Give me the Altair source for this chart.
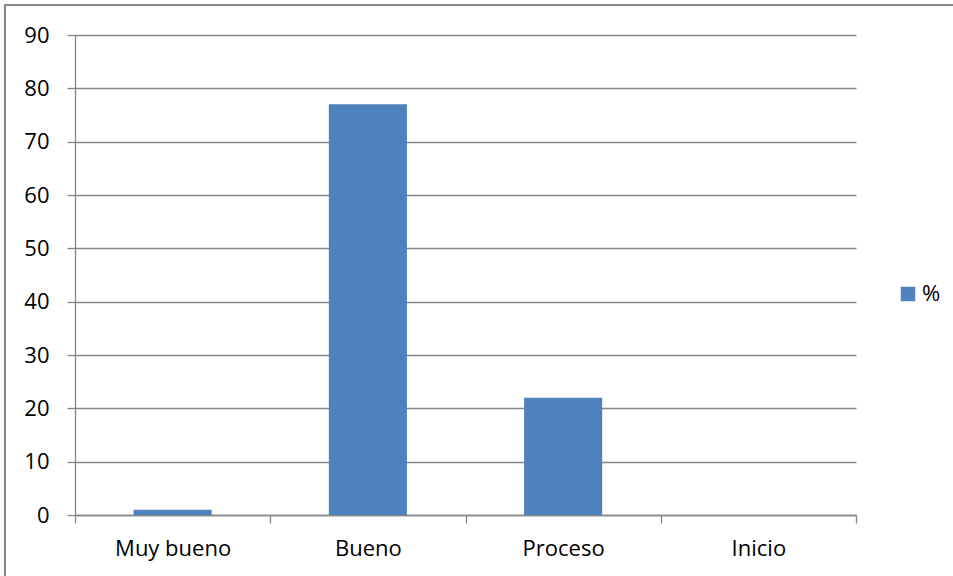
import altair as alt
import pandas as pd

# Rating categories and their percentage share
categorias = ["Muy bueno", "Bueno", "Proceso", "Inicio"]
porcentajes = [1, 77, 22, 0]
serie = ["%", "%", "%", "%"]

df = pd.DataFrame({"categoria": categorias, "valor": porcentajes, "serie": serie})

GRIS = "#868686"
AZUL = "#4F81BD"
FUENTE = "Open Sans"
TAM = 22

barras = alt.Chart(df).mark_bar(
    color=AZUL, width=alt.RelativeBandSize(0.4)
).encode(
    x=alt.X(
        "categoria:N",
        sort=categorias,
        scale=alt.Scale(paddingInner=0, paddingOuter=0),
        axis=alt.Axis(
            title=None,
            labelAngle=0,
            tickBand="extent",
            tickSize=8,
            labelPadding=15,
            grid=False,
        ),
    ),
    y=alt.Y(
        "valor:Q",
        scale=alt.Scale(domain=[0, 90], nice=False),
        axis=alt.Axis(
            title=None,
            values=list(range(0, 100, 10)),
            tickSize=8,
            labelPadding=18,
            grid=True,
        ),
    ),
    color=alt.Color(
        "serie:N",
        scale=alt.Scale(range=[AZUL]),
        legend=alt.Legend(
            title=None,
            orient="none",
            legendX=822,
            legendY=248,
            symbolType="square",
            symbolSize=210,
            symbolStrokeWidth=0,
            labelFontSize=TAM,
            labelFont=FUENTE,
            labelColor="#000000",
            labelOffset=3,
        ),
    ),
)

# Outer frame of the chart
marco = alt.Chart(df).mark_rect(
    fill=None, stroke=GRIS, strokeWidth=1.3, clip=False
).encode(
    x=alt.value(-70),
    x2=alt.value(890),
    y=alt.value(-30),
    y2=alt.value(580),
)

chart = (
    alt.layer(marco, barras)
    .properties(
        width=781,
        height=480,
        autosize=alt.AutoSizeParams(type="none"),
        padding={"left": 75, "top": 35, "right": 97, "bottom": 61},
        background="white",
    )
    .configure_view(stroke=None)
    .configure_axis(
        domainColor=GRIS,
        domainWidth=1.3,
        tickColor=GRIS,
        tickWidth=1.3,
        gridColor=GRIS,
        gridWidth=1.3,
        gridOpacity=1,
        labelFont=FUENTE,
        labelFontSize=TAM,
        labelColor="#000000",
    )
)

chart.save("out.html", embed_options={"renderer": "svg", "actions": False})
